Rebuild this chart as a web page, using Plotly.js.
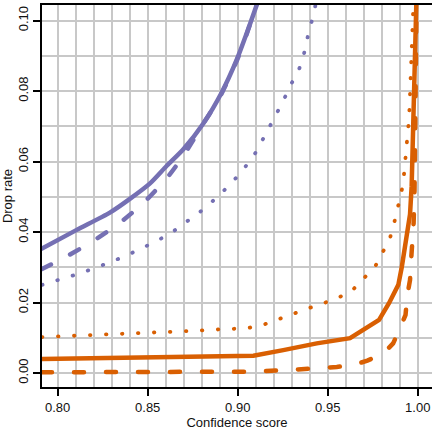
<!DOCTYPE html>
<html>
<head>
<meta charset="utf-8">
<script src="https://cdn.plot.ly/plotly-3.0.1.min.js"></script>
<style>
  html, body { margin: 0; padding: 0; background: #fff; }
  #chart { width: 433px; height: 434px; }
  /* round caps turn the dash patterns into pills and dots */
  .scatterlayer .js-line { stroke-linecap: round; }
</style>
</head>
<body>
<div id="chart"></div>
<script>
// Drop rate as a function of the confidence threshold, two models x three variants.
const purpleSolidX = [0.7913, 0.8106, 0.8290, 0.8401, 0.8513, 0.8606, 0.8698, 0.8809, 0.8911, 0.8994, 0.9050, 0.9106];
const purpleSolidY = [0.0353, 0.0406, 0.0455, 0.0494, 0.0538, 0.0588, 0.0635, 0.0708, 0.0796, 0.0888, 0.0964, 0.1045];

const purpleDashX = [0.7913, 0.8050, 0.8205, 0.8350, 0.8485, 0.8614, 0.8707, 0.8804, 0.8897, 0.8994, 0.9050, 0.9104];
const purpleDashY = [0.0295, 0.0331, 0.0377, 0.0428, 0.0487, 0.0558, 0.0623, 0.0704, 0.0779, 0.0885, 0.0962, 0.1045];

const purpleDotX = [0.7913, 0.7957, 0.8044, 0.8130, 0.8217, 0.8300, 0.8383, 0.8464, 0.8546, 0.8626, 0.8698, 0.8773, 0.8844,
                    0.8910, 0.8972, 0.9031, 0.9087, 0.9131, 0.9174, 0.9217, 0.9258, 0.9296, 0.9339, 0.9367, 0.9387, 0.9409, 0.9430, 0.9435];
const purpleDotY = [0.0250, 0.0257, 0.0270, 0.0284, 0.0300, 0.0316, 0.0334, 0.0353, 0.0374, 0.0396, 0.0423, 0.0450, 0.0480,
                    0.0511, 0.0543, 0.0578, 0.0615, 0.0655, 0.0696, 0.0737, 0.0778, 0.0819, 0.0860, 0.0904, 0.0950, 0.0994, 0.1039, 0.1050];

const orangeSolidX = [0.7913, 0.8500, 0.9087, 0.9253, 0.9439, 0.9624, 0.9697, 0.9785, 0.9840, 0.9892, 0.9911, 0.9939, 0.9957, 0.9966, 0.9975, 0.9985, 0.9992];
const orangeSolidY = [0.0040, 0.0044, 0.0049, 0.0065, 0.0084, 0.0099, 0.0122, 0.0151, 0.0198, 0.0250, 0.0300, 0.0388, 0.0450, 0.0530, 0.0700, 0.0871, 0.1050];

const orangeDashX = [0.7913, 0.8800, 0.9100, 0.9300, 0.9550, 0.9650, 0.9720, 0.9810, 0.9863, 0.9905, 0.9932, 0.9942, 0.9957, 0.9965, 0.9977, 0.9982, 0.9985, 0.9988, 0.9990, 0.9993];
const orangeDashY = [0.0002, 0.0002, 0.0004, 0.0009, 0.0017, 0.0024, 0.0035, 0.0056, 0.0084, 0.0131, 0.0165, 0.0220, 0.0264, 0.0336, 0.0426, 0.0520, 0.0600, 0.0770, 0.0900, 0.1050];

const orangeDotX = [0.7913, 0.7967, 0.8056, 0.8146, 0.8239, 0.8330, 0.8417, 0.8506, 0.8596, 0.8687, 0.8778, 0.8868, 0.8957, 0.9050,
                    0.9137, 0.9223, 0.9309, 0.9389, 0.9476, 0.9561, 0.9639, 0.9702, 0.9763, 0.9806, 0.9847, 0.9870, 0.9893, 0.9911,
                    0.9924, 0.9933, 0.9939, 0.9948, 0.9954, 0.9957, 0.9963, 0.9966, 0.9969, 0.9971, 0.9975, 0.9976];
const orangeDotY = [0.0102, 0.0103, 0.0105, 0.0106, 0.0108, 0.0110, 0.0112, 0.0113, 0.0115, 0.0118, 0.0120, 0.0123, 0.0125, 0.0127,
                    0.0136, 0.0153, 0.0168, 0.0183, 0.0198, 0.0214, 0.0236, 0.0269, 0.0302, 0.0343, 0.0385, 0.0428, 0.0473, 0.0518,
                    0.0566, 0.0612, 0.0658, 0.0702, 0.0750, 0.0795, 0.0842, 0.0887, 0.0935, 0.0980, 0.1027, 0.1050];

const PURPLE = '#7570b3';
const ORANGE = '#d95f02';
const SOLID = 'solid', DASHED = '10px,22px', DOTTED = '0.5px,15.5px';

function series(x, y, color, dash, width, shape) {
  return { x, y, type: 'scatter', mode: 'lines', hoverinfo: 'skip',
           line: { color, dash, width, shape: shape || 'linear', smoothing: 0.7 }, cliponaxis: true };
}

const traces = [
  series(purpleSolidX, purpleSolidY, PURPLE, SOLID, 4.5, 'spline'),
  series(purpleDashX, purpleDashY, PURPLE, DASHED, 4.5, 'spline'),
  series(purpleDotX, purpleDotY, PURPLE, DOTTED, 3.8, 'spline'),
  series(orangeSolidX, orangeSolidY, ORANGE, SOLID, 4.5),
  series(orangeDashX, orangeDashY, ORANGE, DASHED, 4.5),
  series(orangeDotX, orangeDotY, ORANGE, DOTTED, 3.8)
];

const GRID = '#c8c8c8';
const FONT = { family: 'Liberation Sans, Arial, sans-serif', size: 13, color: '#111' };

const layout = {
  width: 433, height: 434,
  margin: { l: 42, r: 1, t: 5, b: 47 },
  paper_bgcolor: '#fff', plot_bgcolor: '#fff',
  showlegend: false,
  font: FONT,
  xaxis: {
    range: [0.7913, 1.0079],
    tickmode: 'linear', tick0: 0, dtick: 0.05, tickformat: '.2f',
    ticks: 'outside', ticklen: 7, tickwidth: 2, tickcolor: '#000',
    showline: true, linecolor: '#000', linewidth: 2, mirror: true,
    showgrid: true, gridcolor: GRID, gridwidth: 2, zeroline: false,
    minor: { tick0: 0, dtick: 0.01, showgrid: true, gridcolor: GRID, gridwidth: 2, ticks: '' },
    title: { text: 'Confidence score', font: FONT, standoff: 4 },
    automargin: false
  },
  yaxis: {
    range: [-0.00397, 0.1044],
    tickmode: 'linear', tick0: 0, dtick: 0.02, tickformat: '.2f', tickangle: -90,
    ticks: 'outside', ticklen: 7, tickwidth: 2, tickcolor: '#000',
    showline: true, linecolor: '#000', linewidth: 2,
    showgrid: true, gridcolor: GRID, gridwidth: 2, zeroline: false,
    minor: { tick0: 0, dtick: 0.01, showgrid: true, gridcolor: GRID, gridwidth: 2, ticks: '' },
    title: { text: 'Drop rate', font: FONT, standoff: 4 },
    automargin: false
  }
};

Plotly.newPlot('chart', traces, layout, { staticPlot: true, displayModeBar: false });
</script>
</body>
</html>
